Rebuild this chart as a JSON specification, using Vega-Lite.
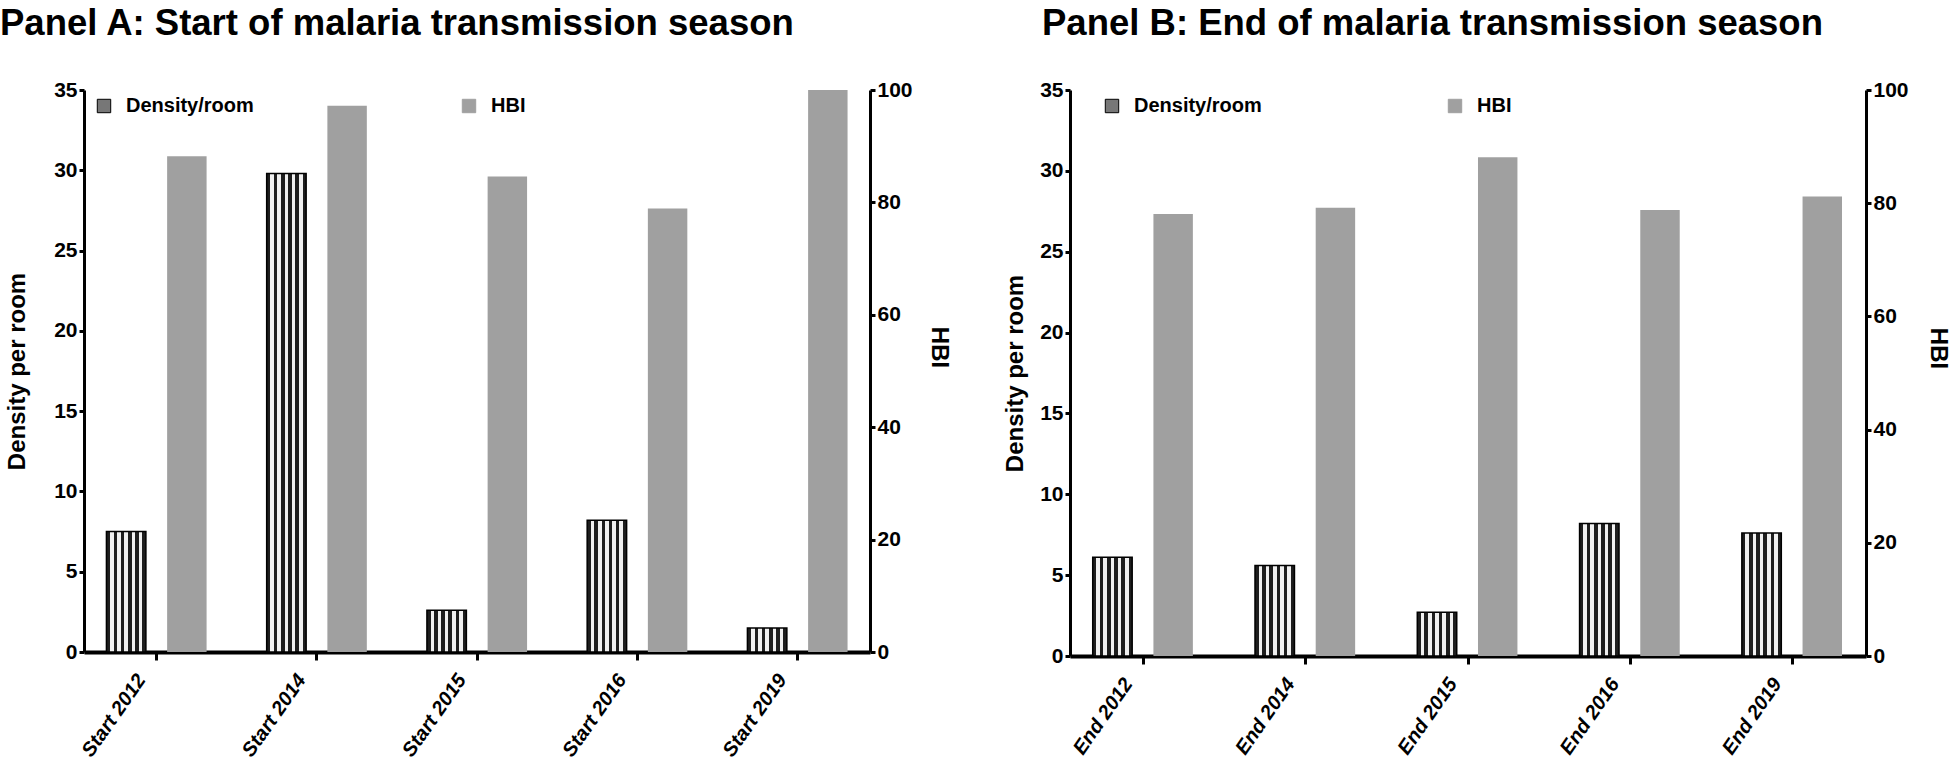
{
  "$schema": "https://vega.github.io/schema/vega-lite/v6.json",
  "padding": {"top": 5, "left": 0, "right": 6, "bottom": 0},
  "background": "white",
  "data": {"values": [
    {"panel": "A", "label": "Start 2012", "measure": "Density/room", "value": 7.5},
    {"panel": "A", "label": "Start 2012", "measure": "HBI", "value": 88.2},
    {"panel": "A", "label": "Start 2014", "measure": "Density/room", "value": 29.8},
    {"panel": "A", "label": "Start 2014", "measure": "HBI", "value": 97.2},
    {"panel": "A", "label": "Start 2015", "measure": "Density/room", "value": 2.6},
    {"panel": "A", "label": "Start 2015", "measure": "HBI", "value": 84.6},
    {"panel": "A", "label": "Start 2016", "measure": "Density/room", "value": 8.2},
    {"panel": "A", "label": "Start 2016", "measure": "HBI", "value": 78.9},
    {"panel": "A", "label": "Start 2019", "measure": "Density/room", "value": 1.5},
    {"panel": "A", "label": "Start 2019", "measure": "HBI", "value": 100},
    {"panel": "B", "label": "End 2012", "measure": "Density/room", "value": 6.1},
    {"panel": "B", "label": "End 2012", "measure": "HBI", "value": 78.1},
    {"panel": "B", "label": "End 2014", "measure": "Density/room", "value": 5.6},
    {"panel": "B", "label": "End 2014", "measure": "HBI", "value": 79.2},
    {"panel": "B", "label": "End 2015", "measure": "Density/room", "value": 2.7},
    {"panel": "B", "label": "End 2015", "measure": "HBI", "value": 88.1},
    {"panel": "B", "label": "End 2016", "measure": "Density/room", "value": 8.2},
    {"panel": "B", "label": "End 2016", "measure": "HBI", "value": 78.8},
    {"panel": "B", "label": "End 2019", "measure": "Density/room", "value": 7.6},
    {"panel": "B", "label": "End 2019", "measure": "HBI", "value": 81.2}
  ]},
  "config": {
    "view": {"stroke": null},
    "font": "Liberation Sans",
    "axis": {
      "grid": false,
      "domainColor": "black",
      "domainWidth": 3,
      "tickColor": "black",
      "tickWidth": 3,
      "tickSize": 5,
      "labelPadding": 2,
      "labelColor": "black",
      "labelFont": "Liberation Sans",
      "labelFontSize": 21,
      "labelFontWeight": "bold",
      "titleColor": "black",
      "titleFont": "Liberation Sans",
      "titleFontSize": 24,
      "titleFontWeight": "bold"
    },
    "legend": {
      "labelFont": "Liberation Sans",
      "labelFontSize": 20,
      "labelFontWeight": "bold",
      "labelColor": "black",
      "padding": 0
    },
    "title": {"font": "Liberation Sans", "fontSize": 36.5, "fontWeight": "bold", "color": "black", "anchor": "start", "frame": "group"}
  },
  "resolve": {"scale": {"color": "independent"}, "legend": {"color": "independent"}},
  "spacing": 52,
  "hconcat": [
    {
      "title": {"text": "Panel A: Start of malaria transmission season", "dx": -84, "offset": 37},
      "width": 786,
      "height": 562,
      "transform": [{"filter": "datum.panel === 'A'"}],
      "encoding": {
        "x": {"field": "label", "type": "nominal", "sort": null,
          "scale": {"paddingInner": 0.375, "paddingOuter": 0.14},
          "axis": {"title": null, "labelAngle": -55, "labelFontStyle": "italic", "labelFontSize": 20, "domainWidth": 4, "tickSize": 8, "labelPadding": 16, "labelOffset": -15}},
        "xOffset": {"field": "measure", "type": "nominal", "sort": ["Density/room", "HBI"],
          "scale": {"domain": ["Density/room", "HBI"], "paddingInner": 0.35, "paddingOuter": 0}}
      },
      "layer": [
        {
          "transform": [{"filter": "datum.measure === 'Density/room'"}],
          "mark": {"type": "bar", "stroke": "black", "strokeWidth": 1.5,
            "fill": {"gradient": "linear", "x1": 0, "y1": 0, "x2": 1, "y2": 0, "stops": [
              {"offset": 0, "color": "#1e1e1e"}, {"offset": 0.0909, "color": "#1e1e1e"},
              {"offset": 0.0909, "color": "#f0f0f0"}, {"offset": 0.1818, "color": "#f0f0f0"},
              {"offset": 0.1818, "color": "#1e1e1e"}, {"offset": 0.2727, "color": "#1e1e1e"},
              {"offset": 0.2727, "color": "#f0f0f0"}, {"offset": 0.3636, "color": "#f0f0f0"},
              {"offset": 0.3636, "color": "#1e1e1e"}, {"offset": 0.4545, "color": "#1e1e1e"},
              {"offset": 0.4545, "color": "#f0f0f0"}, {"offset": 0.5455, "color": "#f0f0f0"},
              {"offset": 0.5455, "color": "#1e1e1e"}, {"offset": 0.6364, "color": "#1e1e1e"},
              {"offset": 0.6364, "color": "#f0f0f0"}, {"offset": 0.7273, "color": "#f0f0f0"},
              {"offset": 0.7273, "color": "#1e1e1e"}, {"offset": 0.8182, "color": "#1e1e1e"},
              {"offset": 0.8182, "color": "#f0f0f0"}, {"offset": 0.9091, "color": "#f0f0f0"},
              {"offset": 0.9091, "color": "#1e1e1e"}, {"offset": 1, "color": "#1e1e1e"}]}},
          "encoding": {
            "y": {"field": "value", "type": "quantitative",
              "scale": {"domain": [0, 35], "nice": false},
              "axis": {"title": "Density per room", "orient": "left", "values": [0, 5, 10, 15, 20, 25, 30, 35], "titlePadding": 24}}
          }
        },
        {
          "transform": [{"filter": "datum.measure === 'HBI'"}],
          "mark": {"type": "bar"},
          "encoding": {
            "y": {"field": "value", "type": "quantitative",
              "scale": {"domain": [0, 100], "nice": false},
              "axis": {"title": "HBI", "orient": "right", "values": [0, 20, 40, 60, 80, 100], "titlePadding": 14, "titleY": 257}},
            "color": {"field": "measure", "type": "nominal",
              "scale": {"domain": ["Density/room", "HBI"], "range": ["#777777", "#a0a0a0"]},
              "legend": {"title": null, "orient": "none", "legendX": 10, "legendY": 6, "direction": "horizontal", "columns": 2,
                "columnPadding": 205, "symbolType": "square", "symbolSize": 180, "labelOffset": 12, "symbolStrokeWidth": 1,
                "encode": {"symbols": {"update": {
                  "fill": [{"test": "datum.value === 'Density/room'", "value": {"gradient": "linear", "x1": 0, "y1": 0, "x2": 1, "y2": 0, "stops": [
                    {"offset": 0, "color": "#1e1e1e"}, {"offset": 0.25, "color": "#1e1e1e"}, {"offset": 0.25, "color": "#f0f0f0"}, {"offset": 0.5, "color": "#f0f0f0"},
                    {"offset": 0.5, "color": "#1e1e1e"}, {"offset": 0.75, "color": "#1e1e1e"}, {"offset": 0.75, "color": "#f0f0f0"}, {"offset": 1, "color": "#f0f0f0"}]}},
                    {"value": "#a0a0a0"}],
                  "stroke": [{"test": "datum.value === 'Density/room'", "value": "black"}, {"value": "#a0a0a0"}]
                }}}}}
          }
        }
      ],
      "resolve": {"scale": {"y": "independent"}}
    },
    {
      "title": {"text": "Panel B: End of malaria transmission season", "dx": -28, "offset": 37},
      "width": 796,
      "height": 566,
      "transform": [{"filter": "datum.panel === 'B'"}],
      "encoding": {
        "x": {"field": "label", "type": "nominal", "sort": null,
          "scale": {"paddingInner": 0.375, "paddingOuter": 0.14},
          "axis": {"title": null, "labelAngle": -55, "labelFontStyle": "italic", "labelFontSize": 20, "domainWidth": 4, "tickSize": 8, "labelPadding": 16, "labelOffset": -15}},
        "xOffset": {"field": "measure", "type": "nominal", "sort": ["Density/room", "HBI"],
          "scale": {"domain": ["Density/room", "HBI"], "paddingInner": 0.35, "paddingOuter": 0}}
      },
      "layer": [
        {
          "transform": [{"filter": "datum.measure === 'Density/room'"}],
          "mark": {"type": "bar", "stroke": "black", "strokeWidth": 1.5,
            "fill": {"gradient": "linear", "x1": 0, "y1": 0, "x2": 1, "y2": 0, "stops": [
              {"offset": 0, "color": "#1e1e1e"}, {"offset": 0.0909, "color": "#1e1e1e"},
              {"offset": 0.0909, "color": "#f0f0f0"}, {"offset": 0.1818, "color": "#f0f0f0"},
              {"offset": 0.1818, "color": "#1e1e1e"}, {"offset": 0.2727, "color": "#1e1e1e"},
              {"offset": 0.2727, "color": "#f0f0f0"}, {"offset": 0.3636, "color": "#f0f0f0"},
              {"offset": 0.3636, "color": "#1e1e1e"}, {"offset": 0.4545, "color": "#1e1e1e"},
              {"offset": 0.4545, "color": "#f0f0f0"}, {"offset": 0.5455, "color": "#f0f0f0"},
              {"offset": 0.5455, "color": "#1e1e1e"}, {"offset": 0.6364, "color": "#1e1e1e"},
              {"offset": 0.6364, "color": "#f0f0f0"}, {"offset": 0.7273, "color": "#f0f0f0"},
              {"offset": 0.7273, "color": "#1e1e1e"}, {"offset": 0.8182, "color": "#1e1e1e"},
              {"offset": 0.8182, "color": "#f0f0f0"}, {"offset": 0.9091, "color": "#f0f0f0"},
              {"offset": 0.9091, "color": "#1e1e1e"}, {"offset": 1, "color": "#1e1e1e"}]}},
          "encoding": {
            "y": {"field": "value", "type": "quantitative",
              "scale": {"domain": [0, 35], "nice": false},
              "axis": {"title": "Density per room", "orient": "left", "values": [0, 5, 10, 15, 20, 25, 30, 35], "titlePadding": 12}}
          }
        },
        {
          "transform": [{"filter": "datum.measure === 'HBI'"}],
          "mark": {"type": "bar"},
          "encoding": {
            "y": {"field": "value", "type": "quantitative",
              "scale": {"domain": [0, 100], "nice": false},
              "axis": {"title": "HBI", "orient": "right", "values": [0, 20, 40, 60, 80, 100], "titlePadding": 17, "titleY": 258}},
            "color": {"field": "measure", "type": "nominal",
              "scale": {"domain": ["Density/room", "HBI"], "range": ["#777777", "#a0a0a0"]},
              "legend": {"title": null, "orient": "none", "legendX": 32, "legendY": 6, "direction": "horizontal", "columns": 2,
                "columnPadding": 183, "symbolType": "square", "symbolSize": 180, "labelOffset": 12, "symbolStrokeWidth": 1,
                "encode": {"symbols": {"update": {
                  "fill": [{"test": "datum.value === 'Density/room'", "value": {"gradient": "linear", "x1": 0, "y1": 0, "x2": 1, "y2": 0, "stops": [
                    {"offset": 0, "color": "#1e1e1e"}, {"offset": 0.25, "color": "#1e1e1e"}, {"offset": 0.25, "color": "#f0f0f0"}, {"offset": 0.5, "color": "#f0f0f0"},
                    {"offset": 0.5, "color": "#1e1e1e"}, {"offset": 0.75, "color": "#1e1e1e"}, {"offset": 0.75, "color": "#f0f0f0"}, {"offset": 1, "color": "#f0f0f0"}]}},
                    {"value": "#a0a0a0"}],
                  "stroke": [{"test": "datum.value === 'Density/room'", "value": "black"}, {"value": "#a0a0a0"}]
                }}}}}
          }
        }
      ],
      "resolve": {"scale": {"y": "independent"}}
    }
  ]
}
